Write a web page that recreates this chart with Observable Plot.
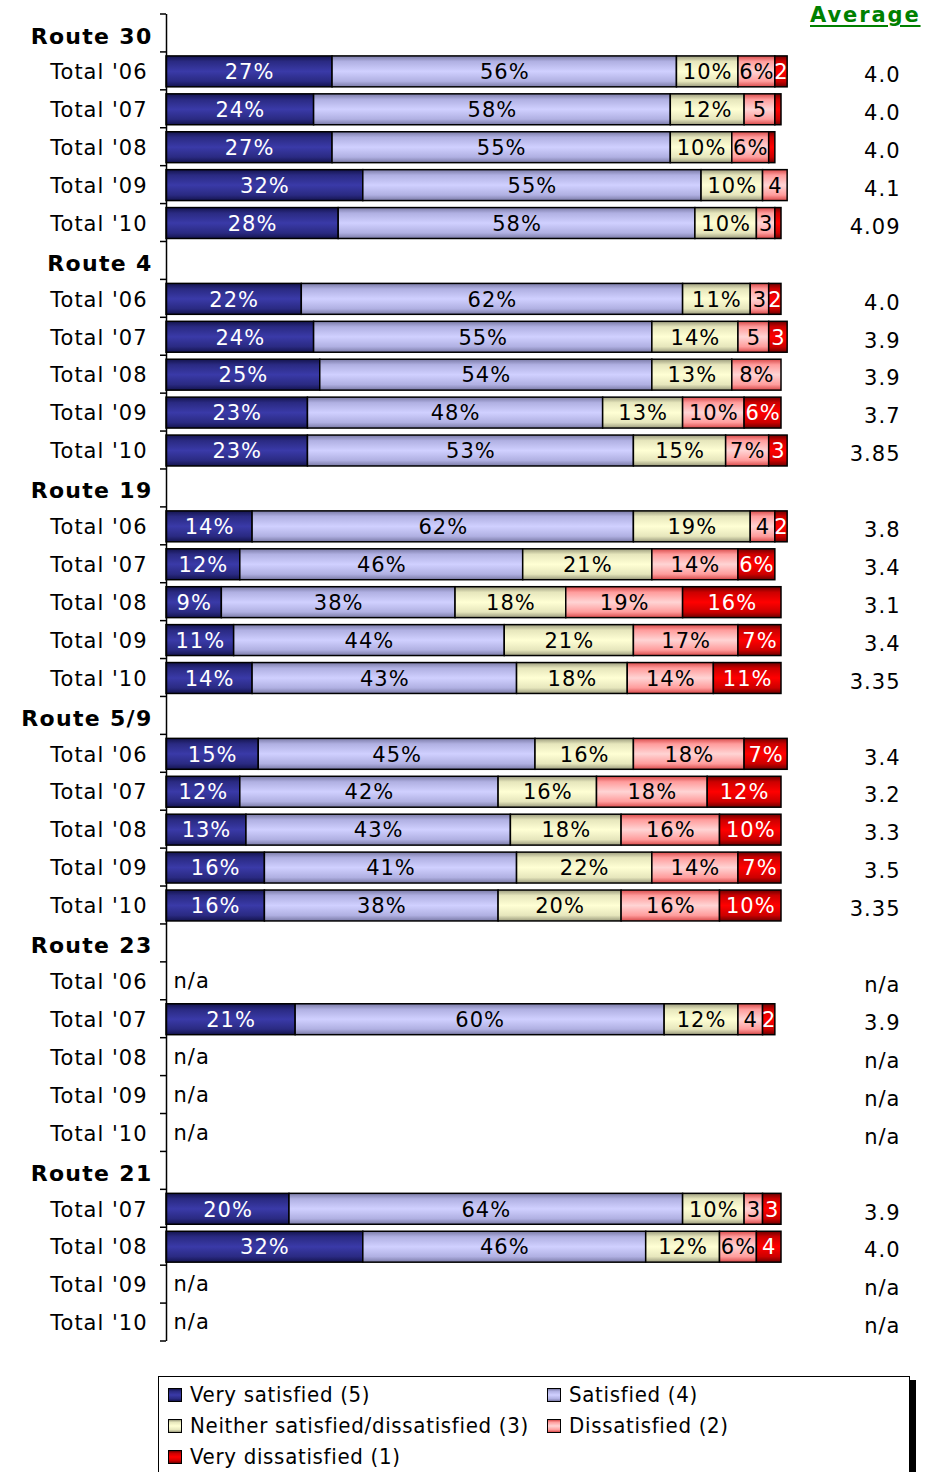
<!DOCTYPE html>
<html><head><meta charset="utf-8">
<script src="https://cdn.jsdelivr.net/npm/d3@7"></script>
<script src="https://cdn.jsdelivr.net/npm/@observablehq/plot@0.6"></script>
<style>
body{margin:0;background:#fff;width:925px;height:1472px;overflow:hidden;position:relative;font-family:"DejaVu Sans",sans-serif}
#chart{position:absolute;left:0;top:0}
#chart svg text{letter-spacing:1px}
#chart g[font-weight="bold"] text{letter-spacing:1.3px}
#avg{position:absolute;left:810px;top:3px;color:#008000;font-weight:bold;font-size:21px;letter-spacing:1.9px;text-decoration:underline;text-decoration-thickness:2px;text-underline-offset:3px}
#legend{position:absolute;left:158px;top:1376px;width:752px;height:120px;border:1.5px solid #000;box-shadow:6px 4px 0 #000;background:#fff;box-sizing:border-box;padding:2px 0 0 9px;display:grid;grid-template-columns:379px auto;grid-auto-rows:31px;font-family:"DejaVu Sans Condensed","DejaVu Sans",sans-serif;font-stretch:condensed;font-size:22px;color:#000;letter-spacing:0.7px}
.item{display:flex;align-items:center;white-space:nowrap}
.sw{display:inline-block;width:12px;height:12px;border:1.5px solid #000;margin-right:8px;flex:none}
</style></head><body>
<div id="chart"></div>
<div id="avg">Average</div>
<div id="legend"></div>
<script>
// ---- data ----
const categories = ["Very satisfied (5)", "Satisfied (4)", "Neither satisfied/dissatisfied (3)", "Dissatisfied (2)", "Very dissatisfied (1)"];
const routes = ["Route 30", "Route 4", "Route 19", "Route 5/9", "Route 23", "Route 21"];
const routeYears = [
  ["Total '06", "Total '07", "Total '08", "Total '09", "Total '10"],
  ["Total '06", "Total '07", "Total '08", "Total '09", "Total '10"],
  ["Total '06", "Total '07", "Total '08", "Total '09", "Total '10"],
  ["Total '06", "Total '07", "Total '08", "Total '09", "Total '10"],
  ["Total '06", "Total '07", "Total '08", "Total '09", "Total '10"],
  ["Total '07", "Total '08", "Total '09", "Total '10"]
];
const verySatisfied    = [27,24,27,32,28, 22,24,25,23,23, 14,12, 9,11,14, 15,12,13,16,16, null,21,null,null,null, 20,32,null,null];
const satisfied        = [56,58,55,55,58, 62,55,54,48,53, 62,46,38,44,43, 45,42,43,41,38, null,60,null,null,null, 64,46,null,null];
const neither          = [10,12,10,10,10, 11,14,13,13,15, 19,21,18,21,18, 16,16,18,22,20, null,12,null,null,null, 10,12,null,null];
const dissatisfied     = [ 6, 5, 6, 4, 3,  3, 5, 8,10, 7,  4,14,19,17,14, 18,18,16,14,16, null, 4,null,null,null,  3, 6,null,null];
const veryDissatisfied = [ 2, 1, 1, 0, 1,  2, 3, 0, 6, 3,  2, 6,16, 7,11,  7,12,10, 7,10, null, 2,null,null,null,  3, 4,null,null];
const averages = ["4.0","4.0","4.0","4.1","4.09", "4.0","3.9","3.9","3.7","3.85", "3.8","3.4","3.1","3.4","3.35", "3.4","3.2","3.3","3.5","3.35", "n/a","3.9","n/a","n/a","n/a", "3.9","4.0","n/a","n/a"];

// ---- styles ----
const gradients = [
  [["0","#14144e"],["0.18","#2a2a82"],["0.5","#3a3aa8"],["0.82","#2a2a82"],["1","#14144e"]],
  [["0","#7a7aa6"],["0.18","#b0b0e2"],["0.5","#d0d0ff"],["0.82","#b0b0e2"],["1","#7a7aa6"]],
  [["0","#9a9a7c"],["0.18","#e6e6bc"],["0.5","#ffffd4"],["0.82","#e6e6bc"],["1","#9a9a7c"]],
  [["0","#d84a4a"],["0.18","#ff9c9c"],["0.5","#ffd4d4"],["0.82","#ff9c9c"],["1","#d84a4a"]],
  [["0","#6e0000"],["0.18","#cc0000"],["0.5","#ff0000"],["0.82","#cc0000"],["1","#6e0000"]]
];
const valueSeries = [verySatisfied, satisfied, neither, dissatisfied, veryDissatisfied];

// ---- build tables ----
const keys = [], headers = [], totals = [], dataRows = [];
let idx = 0;
routes.forEach((r, ri) => {
  const hk = r + "|";
  keys.push(hk); headers.push({key: hk, label: r});
  routeYears[ri].forEach(yl => {
    const k = r + "|" + yl;
    keys.push(k); totals.push({key: k, label: yl});
    dataRows.push({key: k, i: idx, avg: averages[idx], na: verySatisfied[idx] == null});
    idx++;
  });
});
const segments = [];
dataRows.forEach(d => {
  if (d.na) return;
  let acc = 0;
  categories.forEach((c, ci) => {
    const v = valueSeries[ci][d.i];
    if (v > 0) {
      segments.push({row: d.key, cat: c, ci, value: v, x1: acc, x2: acc + v,
        label: v >= 6 ? v + "%" : (v >= 2 ? String(v) : "")});
    }
    acc += v;
  });
});

function defsMark() {
  const defs = d3.create("svg:defs");
  gradients.forEach((stops, i) => {
    const g = defs.append("linearGradient").attr("id", "grad" + i)
      .attr("x1", 0).attr("y1", 0).attr("x2", 0).attr("y2", 1);
    stops.forEach(([o, c]) => g.append("stop").attr("offset", o).attr("stop-color", c));
  });
  return defs.node();
}
function yTicks(index, scales, values, dims) {
  const y = scales.y;
  const step = y(keys[1]) - y(keys[0]);
  const pos = keys.map(k => y(k)).concat([y(keys[keys.length - 1]) + step]);
  const g = d3.create("svg:g").attr("stroke", "#000").attr("stroke-width", 1.5);
  pos.forEach(p => g.append("line").attr("x1", dims.marginLeft - 6).attr("x2", dims.marginLeft).attr("y1", p).attr("y2", p));
  return g.node();
}

const dark = new Set([0, 4]);
const chart = Plot.plot({
  width: 925, height: 1350,
  marginLeft: 166, marginRight: 144, marginTop: 14, marginBottom: 9,
  style: {fontFamily: "DejaVu Sans, sans-serif", fontSize: "21px", background: "#fff", color: "#000", overflow: "visible"},
  x: {domain: [0, 100], axis: null},
  y: {domain: keys, padding: 0, axis: null},
  color: {domain: categories, range: categories.map((c, i) => `url(#grad${i})`)},
  marks: [
    defsMark,
    Plot.barX(segments, {x1: "x1", x2: "x2", y: "row", fill: "cat", stroke: "#000", strokeWidth: 1.5, insetTop: 4, insetBottom: 3}),
    Plot.text(segments.filter(d => dark.has(d.ci) && d.label), {x: d => (d.x1 + d.x2) / 2, y: "row", text: "label", fill: "#fff", fontSize: 21, dy: 1}),
    Plot.text(segments.filter(d => !dark.has(d.ci) && d.label), {x: d => (d.x1 + d.x2) / 2, y: "row", text: "label", fill: "#000", fontSize: 21, dy: 1}),
    Plot.ruleX([0], {stroke: "#000", strokeWidth: 1.5}),
    yTicks,
    Plot.text(headers, {y: "key", text: "label", frameAnchor: "left", textAnchor: "end", dx: -14, dy: 3, fontWeight: "bold", fontSize: 22}),
    Plot.text(totals, {y: "key", text: "label", frameAnchor: "left", textAnchor: "end", dx: -19, dy: 1, fontSize: 21}),
    Plot.text(dataRows.filter(d => d.na), {y: "key", text: () => "n/a", frameAnchor: "left", textAnchor: "start", dx: 7, fontSize: 21}),
    Plot.text(dataRows, {y: "key", text: "avg", frameAnchor: "right", textAnchor: "end", dx: 119, dy: 4, fontSize: 21})
  ]
});
document.getElementById("chart").appendChild(chart);

// legend
const leg = document.getElementById("legend");
categories.forEach((c, i) => {
  const it = document.createElement("div");
  it.className = "item";
  const sw = document.createElement("span");
  sw.className = "sw";
  sw.style.background = "linear-gradient(to bottom," + gradients[i].map(([o, col]) => col + " " + (o * 100) + "%").join(",") + ")";
  it.appendChild(sw);
  it.appendChild(document.createTextNode(c));
  leg.appendChild(it);
});
</script></body></html>
